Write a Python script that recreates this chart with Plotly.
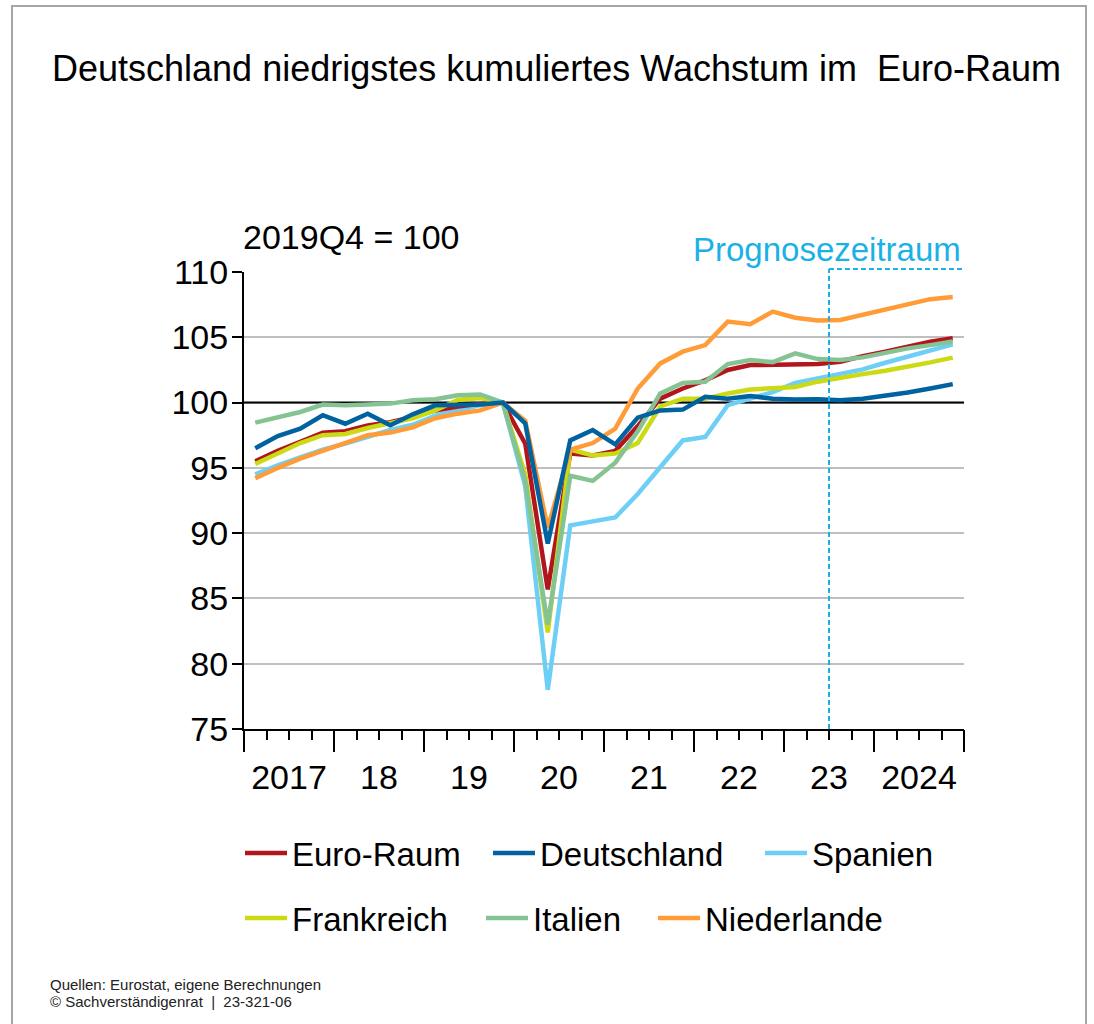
import plotly.graph_objects as go

# ---------------- data ----------------
QUARTERS = [f"{y}Q{q}" for y in range(2017, 2025) for q in range(1, 5)]

EURO_RAUM = [95.5, 96.3, 97.0, 97.7,
             97.8, 98.25, 98.5, 98.9,
             99.4, 99.7, 99.9, 100.0,
             96.85, 85.7, 96.1, 95.95,
             96.3, 98.2, 100.3, 101.08,
             101.7, 102.5, 102.87, 102.87,
             102.9, 102.95, 103.13, 103.56,
             103.9, 104.28, 104.67, 104.92]

DEUTSCHLAND = [96.5, 97.44, 98.0, 99.03,
               98.38, 99.15, 98.26, 99.1,
               99.79, 99.79, 99.85, 100.0,
               98.4, 89.2, 97.1, 97.9,
               96.8, 98.85, 99.4, 99.46,
               100.44, 100.3, 100.5, 100.3,
               100.23, 100.26, 100.18, 100.3,
               100.51, 100.77, 101.08, 101.41]

SPANIEN = [94.5, 95.2, 95.8, 96.4,
           96.85, 97.4, 97.9, 98.3,
           99.0, 99.4, 99.8, 100.0,
           93.6, 78.0, 90.6, 90.9,
           91.2, 93.0, 95.05, 97.1,
           97.36, 99.8, 100.3, 100.8,
           101.5, 101.85, 102.23, 102.54,
           103.05, 103.5, 103.95, 104.46]

FRANKREICH = [95.3, 96.1, 96.9, 97.5,
              97.6, 98.05, 98.4, 98.8,
              99.4, 100.2, 100.35, 100.0,
              94.5, 82.4, 96.4, 95.95,
              96.1, 96.9, 99.7, 100.3,
              100.3, 100.7, 101.0, 101.13,
              101.2, 101.6, 101.85, 102.18,
              102.44, 102.74, 103.08, 103.44]

ITALIEN = [98.46, 98.9, 99.28, 99.85,
           99.79, 99.85, 99.92, 100.18,
           100.26, 100.56, 100.62, 100.0,
           94.0, 83.0, 94.4, 94.0,
           95.4, 97.8, 100.7, 101.5,
           101.6, 102.95, 103.25, 103.1,
           103.77, 103.33, 103.26, 103.46,
           103.8, 104.15, 104.4, 104.67]

NIEDERLANDE = [94.2, 95.0, 95.7, 96.3,
               96.85, 97.5, 97.7, 98.1,
               98.8, 99.15, 99.4, 100.0,
               98.6, 90.4, 96.4, 96.9,
               98.0, 101.08, 103.0, 103.9,
               104.4, 106.2, 106.0, 106.97,
               106.5, 106.28, 106.33, 106.72,
               107.1, 107.5, 107.92, 108.08]

YEARS = [2017, 2018, 2019, 2020, 2021, 2022, 2023, 2024]
YEAR_LABELS = ["2017", "18", "19", "20", "21", "22", "23", "2024"]
Y_TICKS = [75, 80, 85, 90, 95, 100, 105, 110]
BASE_VALUE = 100
FORECAST_START = 2023.5   # forecast period begins after 2023Q2
X_RANGE = [2017, 2025]

SERIES = [  # drawing order (bottom -> top)
    ("Spanien", SPANIEN, "#6DCFF6", "legend3"),
    ("Euro-Raum", EURO_RAUM, "#B2151B", "legend"),
    ("Frankreich", FRANKREICH, "#CBDA12", "legend4"),
    ("Niederlande", NIEDERLANDE, "#FF9C38", "legend6"),
    ("Italien", ITALIEN, "#85C492", "legend5"),
    ("Deutschland", DEUTSCHLAND, "#00629F", "legend2"),
]


def qpos(label):
    year, q = int(label[:4]), int(label[-1])
    return year + (q - 0.5) / 4


X = [qpos(q) for q in QUARTERS]

FONT = "Liberation Sans, Arial, sans-serif"
PROG_COLOR = "#1BB1E7"

fig = go.Figure()

# index line (2019Q4 = 100) below the series
fig.add_trace(go.Scatter(x=X_RANGE, y=[BASE_VALUE, BASE_VALUE], mode="lines",
                         line=dict(color="black", width=2),
                         showlegend=False, hoverinfo="skip"))

for name, vals, color, leg in SERIES:
    fig.add_trace(go.Scatter(
        x=X, y=vals, name=name, mode="lines",
        line=dict(color=color, width=4.5),
        legend=leg, hoverinfo="x+y+name",
    ))

# helper trace for the tick-mark axis
fig.add_trace(go.Scatter(x=X_RANGE, y=[None, None], xaxis="x2", yaxis="y",
                         showlegend=False, hoverinfo="skip"))

W, H = 1094, 1024
L, R, T, B = 244, 130, 272, 295
PW, PH = W - L - R, H - T - B


def px_x(px):
    return (px - L) / PW


def px_y(py):
    return (H - B - py) / PH


legend_common = dict(orientation="h", xanchor="left", yanchor="middle",
                     font=dict(size=33, color="black", family=FONT),
                     bgcolor="rgba(0,0,0,0)", itemwidth=42, borderwidth=0)

legend_pos = {
    "legend": (245, 853), "legend2": (493, 853), "legend3": (765, 853),
    "legend4": (245, 918), "legend5": (486, 918), "legend6": (658, 918),
}
legend_layout = {}
for key, (lx, ly) in legend_pos.items():
    legend_layout[key] = dict(legend_common, x=px_x(lx - 5), y=px_y(ly))

fig.update_layout(
    width=W, height=H,
    margin=dict(l=L, r=R, t=T, b=B),
    paper_bgcolor="white", plot_bgcolor="white",
    font=dict(family=FONT, color="black"),
    title=dict(text="Deutschland niedrigstes kumuliertes Wachstum im  Euro-Raum",
               x=52 / W, xref="container", xanchor="left",
               y=1 - 68 / H, yref="container", yanchor="middle",
               font=dict(size=36, color="black", family=FONT)),
    xaxis=dict(range=X_RANGE, tickmode="array",
               tickvals=[y + 0.5 for y in YEARS], ticktext=YEAR_LABELS,
               ticks="", showgrid=False, zeroline=False,
               showline=True, linecolor="black", linewidth=2,
               tickfont=dict(size=34, color="black", family=FONT),
               ticklabelstandoff=17),
    xaxis2=dict(range=X_RANGE, overlaying="x", anchor="y", side="bottom",
                tickmode="array", tickvals=YEARS + [2025],
                ticks="outside", ticklen=22, tickwidth=2, tickcolor="black",
                showticklabels=False, showgrid=False, zeroline=False,
                showline=False,
                minor=dict(tick0=2017, dtick=0.25, ticks="outside", ticklen=10,
                           tickwidth=2, tickcolor="black", showgrid=False)),
    yaxis=dict(range=[75, 110], tickmode="array", tickvals=Y_TICKS,
               ticks="outside", ticklen=10, tickwidth=2, tickcolor="black",
               showline=True, linecolor="black", linewidth=2,
               showgrid=True, gridcolor="#BFBFBF", gridwidth=2,
               zeroline=False, ticklabelstandoff=-3,
               tickfont=dict(size=34, color="black", family=FONT)),
    **legend_layout,
)

# forecast period markers
fx = (FORECAST_START - X_RANGE[0]) / (X_RANGE[1] - X_RANGE[0])
fig.add_shape(type="line", xref="paper", yref="paper", x0=fx, x1=fx, y0=0, y1=px_y(269),
              line=dict(color=PROG_COLOR, width=2, dash="5px,3px"))
fig.add_shape(type="line", xref="paper", yref="paper", x0=fx, x1=1, y0=px_y(269), y1=px_y(269),
              line=dict(color=PROG_COLOR, width=2, dash="5px,3px"))

# outer frame
fig.add_shape(type="rect", xref="paper", yref="paper",
              x0=px_x(12), x1=px_x(1086), y0=px_y(1100), y1=px_y(6),
              line=dict(color="#A6A6A6", width=2), fillcolor="rgba(0,0,0,0)")

fig.add_annotation(text="2019Q4 = 100", xref="paper", yref="paper",
                   x=px_x(241), y=px_y(237), xanchor="left", yanchor="middle",
                   showarrow=False, font=dict(size=34, color="black", family=FONT))
fig.add_annotation(text="Prognosezeitraum", xref="paper", yref="paper",
                   x=px_x(963), y=px_y(249), xanchor="right", yanchor="middle",
                   showarrow=False, font=dict(size=33, color=PROG_COLOR, family=FONT))
fig.add_annotation(text="Quellen: Eurostat, eigene Berechnungen", xref="paper", yref="paper",
                   x=px_x(48), y=px_y(984), xanchor="left", yanchor="middle",
                   showarrow=False, font=dict(size=15, color="#222222", family=FONT))
fig.add_annotation(text="© Sachverständigenrat  |  23-321-06", xref="paper", yref="paper",
                   x=px_x(48), y=px_y(1002), xanchor="left", yanchor="middle",
                   showarrow=False, font=dict(size=15, color="#222222", family=FONT))

fig.write_html("out.html", config={"displayModeBar": False},
               post_script="document.body.style.margin='0';")
